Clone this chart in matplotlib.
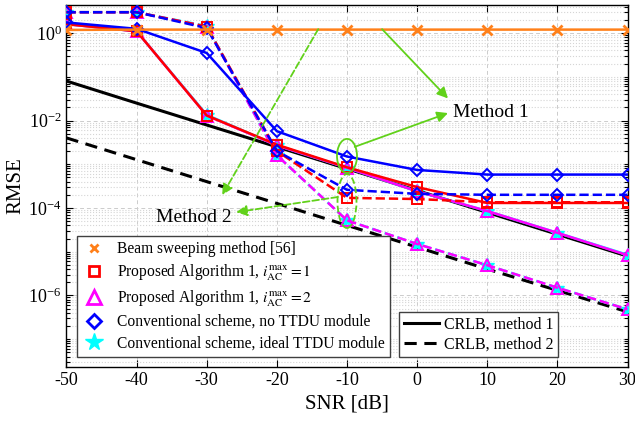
import numpy as np
import matplotlib
matplotlib.use("Agg")
import matplotlib.pyplot as plt
from matplotlib import ticker
from matplotlib.lines import Line2D
from matplotlib.patches import Ellipse
from matplotlib.transforms import ScaledTranslation

# data
snr = [-50, -40, -30, -20, -10, 0, 10, 20, 30]

beam_sweep = [1.18, 1.2, 1.2, 1.2, 1.2, 1.2, 1.2, 1.2, 1.2]
crlb_m1 = [0.08, 0.025, 0.0079, 0.0025, 7.9e-4, 2.5e-4, 7.9e-5, 2.5e-5, 7.9e-6]
crlb_m2 = [4.0e-3, 1.27e-3, 4.0e-4, 1.27e-4, 4.0e-5, 1.27e-5, 4.0e-6, 1.3e-6, 4.2e-7]

alg1_i1_m1 = [1.6, 1.1, 0.013, 0.0028, 8.5e-4, 3.0e-4, 1.3e-4, 1.3e-4, 1.3e-4]
alg1_i1_m2 = [3.0, 3.0, 1.4, 2.0e-3, 1.7e-4, 1.6e-4, 1.35e-4, 1.35e-4, 1.35e-4]
alg1_i2_m1 = [1.6, 1.1, 0.013, 0.0027, 8.3e-4, 2.4e-4, 8.5e-5, 2.7e-5, 8.3e-6]
alg1_i2_m2 = [3.0, 3.0, 1.4, 1.6e-3, 5.2e-5, 1.5e-5, 4.9e-6, 1.5e-6, 4.8e-7]
ideal_m1 = [1.6, 1.1, 0.0135, 0.0027, 8.3e-4, 2.4e-4, 8.5e-5, 2.7e-5, 8.5e-6]
ideal_m2 = [3.0, 3.0, 1.45, 1.6e-3, 5.2e-5, 1.5e-5, 4.9e-6, 1.5e-6, 4.8e-7]
no_ttdu_m1 = [1.75, 1.25, 0.35, 5.7e-3, 1.5e-3, 7.4e-4, 5.8e-4, 5.8e-4, 5.8e-4]
no_ttdu_m2 = [3.0, 3.0, 1.3, 2.0e-3, 2.6e-4, 2.1e-4, 2.0e-4, 2.0e-4, 2.0e-4]

legend_labels = [
    "Beam sweeping method [56]",
    r"Proposed Algorithm 1, $i_{\mathrm{AC}}^{\mathrm{max}} = 1$",
    r"Proposed Algorithm 1, $i_{\mathrm{AC}}^{\mathrm{max}} = 2$",
    "Conventional scheme, no TTDU module",
    "Conventional scheme, ideal TTDU module",
]

plt.rcParams["font.family"] = ["Liberation Serif", "DejaVu Serif"]
plt.rcParams["mathtext.fontset"] = "stix"
plt.rcParams["axes.unicode_minus"] = False

orange = (1.0, 0.5, 0.1)
green = (0.38, 0.82, 0.1)
cyan = "#00ffff"
magenta = "#ff00ff"
lw = 1.8
ms = 7
mew = 1.4

fig = plt.figure(figsize=(6.35, 4.22), dpi=100)
ax = fig.add_axes([0.1047, 0.1303, 0.8835, 0.858])

# CRLB curves underneath
ax.plot(snr, crlb_m1, color="k", lw=2.2, zorder=2)
ax.plot(snr, crlb_m2, color="k", lw=2.2, ls=(0, (4, 2.5)), zorder=2)

# ideal TTDU (cyan stars)
ax.plot(snr, ideal_m1, color=cyan, lw=lw, marker="*", ms=ms + 3, mfc=cyan, mec=cyan, zorder=3)
ax.plot(snr, ideal_m2, color=cyan, lw=lw, ls="--", marker="*", ms=ms + 3, mfc=cyan, mec=cyan, zorder=3)
# proposed, i=2 (magenta triangles)
ax.plot(snr, alg1_i2_m1, color=magenta, lw=lw, marker="^", ms=ms + 1, mfc="none", mew=mew, zorder=4)
ax.plot(snr, alg1_i2_m2, color=magenta, lw=lw, ls="--", marker="^", ms=ms + 1, mfc="none", mew=mew, zorder=4)
# proposed, i=1 (red squares)
ax.plot(snr, alg1_i1_m1, color="r", lw=lw, marker="s", ms=ms, mfc="none", mew=mew, zorder=5)
ax.plot(snr, alg1_i1_m2, color="r", lw=lw, ls="--", marker="s", ms=ms, mfc="none", mew=mew, zorder=5)
# no TTDU (blue diamonds)
ax.plot(snr, no_ttdu_m1, color="b", lw=lw, marker="D", ms=ms - 1, mfc="none", mew=mew, zorder=6)
ax.plot(snr, no_ttdu_m2, color="b", lw=lw, ls="--", marker="D", ms=ms - 1, mfc="none", mew=mew, zorder=6)
# beam sweeping
ax.plot(snr, beam_sweep, color=orange, lw=lw, marker="x", ms=ms, mew=2, zorder=7)

ax.set_yscale("log")
ax.set_xlim(-50, 30)
ax.set_ylim(2.3e-8, 4.4)
ax.set_xticks(snr)
ax.yaxis.set_major_locator(ticker.FixedLocator([1, 1e-2, 1e-4, 1e-6]))
ax.yaxis.set_major_formatter(ticker.LogFormatterMathtext())
ax.yaxis.set_minor_locator(ticker.LogLocator(base=10, subs=np.arange(1, 10), numticks=30))
ax.yaxis.set_minor_formatter(ticker.NullFormatter())
ax.tick_params(which="both", direction="in", top=True, right=True, labelsize=13, width=0.8)
ax.tick_params(which="major", length=5)
ax.tick_params(which="minor", length=3)
ax.grid(which="major", color="#cccccc", ls=(0, (4, 3)), lw=0.7)
ax.grid(which="minor", axis="y", color="#d5d5d5", ls=":", lw=0.8)
for s in ax.spines.values():
    s.set_linewidth(1.0)

ax.set_xlabel("SNR [dB]", fontsize=15, labelpad=4)
ax.set_ylabel("RMSE", fontsize=15, labelpad=2)

# annotations
ax.text(5.1, 0.0155, "Method 1", fontsize=14, va="center", ha="left", zorder=10)
ax.text(-37.2, 6.2e-5, "Method 2", fontsize=14, va="center", ha="left", zorder=10)

solid_arrow = dict(arrowstyle="-|>", color=green, lw=1.3, mutation_scale=16, shrinkA=0, shrinkB=0)
dash_arrow = dict(arrowstyle="-|>", color=green, lw=1.3, ls="--", mutation_scale=16, shrinkA=0, shrinkB=0)
ax.annotate("", xy=(4.4, 0.032), xytext=(-5.0, 1.23), arrowprops=solid_arrow, zorder=9)
ax.annotate("", xy=(4.4, 0.0148), xytext=(-8.9, 2.5e-3), arrowprops=solid_arrow, zorder=9)
ax.annotate("", xy=(-27.8, 1.96e-4), xytext=(-14.1, 1.23), arrowprops=dash_arrow, zorder=9)
ax.annotate("", xy=(-25.8, 8e-5), xytext=(-11.3, 1.78e-4), arrowprops=dash_arrow, zorder=9)

e1 = Ellipse((0, 0), 0.20, 0.34, fill=False, ec=green, lw=1.3, zorder=9,
             transform=fig.dpi_scale_trans + ScaledTranslation(-10, 1.55e-3, ax.transData))
e2 = Ellipse((0, 0), 0.19, 0.54, fill=False, ec=green, lw=1.3, ls="--", zorder=9,
             transform=fig.dpi_scale_trans + ScaledTranslation(-10, 1.44e-4, ax.transData))
ax.add_patch(e1)
ax.add_patch(e2)

# legends
handles = [
    Line2D([], [], ls="none", color=orange, marker="x", ms=ms - 1, mew=2),
    Line2D([], [], ls="none", color="r", marker="s", ms=ms, mfc="none", mew=2),
    Line2D([], [], ls="none", color=magenta, marker="^", ms=ms + 3, mfc="none", mew=2),
    Line2D([], [], ls="none", color="b", marker="D", ms=ms, mfc="none", mew=2),
    Line2D([], [], ls="none", color=cyan, marker="*", ms=ms + 6, mfc=cyan, mec=cyan),
]
leg1 = ax.legend(handles, legend_labels, loc="lower left", bbox_to_anchor=(0.0187, 0.0276),
                 fontsize=11.2, frameon=True, fancybox=False, framealpha=1, edgecolor="0.25",
                 borderaxespad=0, handlelength=1.5, handletextpad=0.7, labelspacing=0.35,
                 borderpad=0.35)
leg1.get_frame().set_linewidth(1.0)
leg1.set_zorder(20)
ax.add_artist(leg1)

crlb_handles = [Line2D([], [], color="k", lw=2.2), Line2D([], [], color="k", lw=2.2, ls=(0, (4, 2.5)))]
leg2 = ax.legend(crlb_handles, ["CRLB, method 1", "CRLB, method 2"], loc="lower right",
                 bbox_to_anchor=(0.876, 0.0276), fontsize=11.5, frameon=True, fancybox=False,
                 framealpha=1, edgecolor="0.25", borderaxespad=0, handlelength=2.2,
                 handletextpad=0.3, labelspacing=0.2, borderpad=0.3)
leg2.get_frame().set_linewidth(1.0)
leg2.set_zorder(20)

fig.savefig("out.png", dpi=100)
